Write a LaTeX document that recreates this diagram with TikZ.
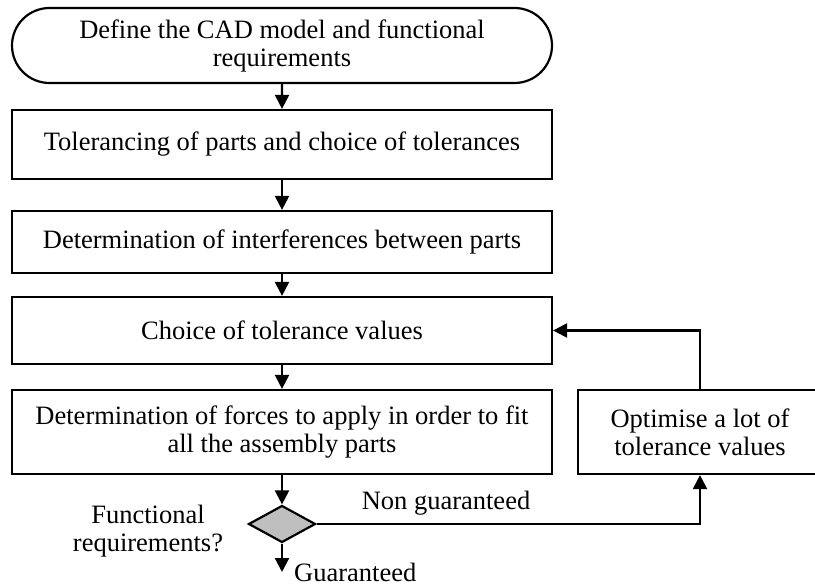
\documentclass[tikz,border=0pt]{standalone}
\usepackage{fontspec}
\setmainfont{Liberation Serif}
\usepackage{tikz}
\usetikzlibrary{positioning,arrows.meta,shapes.misc,shapes.geometric}
\tikzstyle{startstop} = [rounded rectangle, minimum width=540pt, minimum height=75pt, inner sep=0pt, align=center, draw=black, line width=2.2pt]
\tikzstyle{process}   = [rectangle, minimum width=540pt, inner sep=0pt, align=center, draw=black, line width=2.2pt]
\tikzstyle{decision}  = [diamond, aspect=1.8, minimum width=67pt, minimum height=37pt, inner sep=0pt, draw=black, fill=black!25, line width=2.2pt]
\tikzstyle{arrow}     = [line width=2.2pt,-{Triangle[width=14pt,length=14pt]}]

\begin{document}
\begin{tikzpicture}[x=1pt,y=-1pt,
			font=\fontsize{26.5}{28}\selectfont
		]
		\clip (0,0) rectangle (815,588);
		\useasboundingbox (0,0) rectangle (815,588);
		\node[startstop] (define) at (282,45.5) {Define the CAD model and functional\\requirements};
		\node[process, minimum height=69pt] (toler) at (282,144.5) {Tolerancing of parts and choice of tolerances};
		\node[process, minimum height=62pt] (interf) at (282,242) {Determination of interferences between parts};
		\node[process, minimum height=67pt] (values) at (282,330.5) {Choice of tolerance values};
		\node[process, minimum height=84pt] (forces) at (282,432) {Determination of forces to apply in order to fit\\all the assembly parts};
		\node[process, minimum width=244pt, minimum height=84pt] (optim) at (700,432) {Optimise a lot of\\tolerance values};
		\node[decision] (check) at (282,524) {};
		\node[align=center] (question) at (148,531) {Functional\\requirements?};
		\coordinate (out) at (282,572);
		\node[anchor=west, inner sep=0pt] (guar) at (294,572) {Guaranteed};
		\node (nonguar) at (446,503) {Non guaranteed};

		\draw[arrow] (define) -- (toler);
		\draw[arrow] (toler) -- (interf);
		\draw[arrow] (interf) -- (values);
		\draw[arrow] (values) -- (forces);
		\draw[arrow] (forces) -- (check);
		\draw[arrow] (check) -- (out);
		\draw[arrow] (check.east) -| (optim.south);
		\draw[arrow] (optim.north) |- (values.east);
	\end{tikzpicture}
\end{document}
